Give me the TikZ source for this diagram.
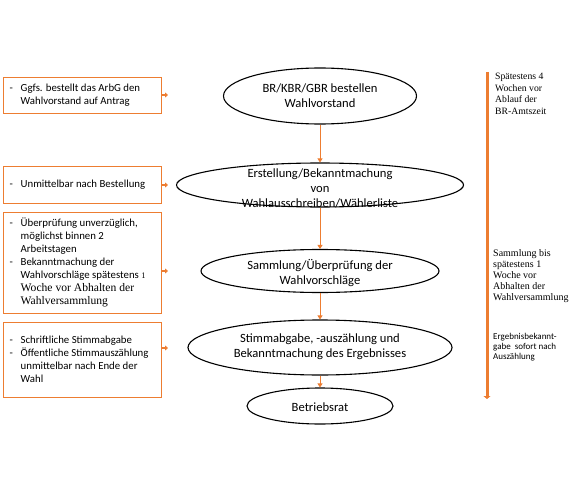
\documentclass[tikz,border=0pt]{standalone}
\usepackage{fontspec}
\setmainfont{Carlito}
\newfontfamily\serifx{Liberation Serif}
\usetikzlibrary{shapes.geometric,arrows.meta}
\definecolor{orng}{HTML}{ED7D31}
\newenvironment{bl}{\begin{tabular}{@{}p{11pt}@{}p{135pt}@{}}}{\end{tabular}}
\begin{document}
\begin{tikzpicture}[x=1pt,y=-1pt,
  ell/.style={draw=black,line width=1.1pt,ellipse,inner sep=0pt},
  etxt/.style={align=center,font=\fontsize{12.6}{15}\selectfont},
  obox/.style={draw=orng,line width=1.4pt,anchor=north west,inner xsep=6pt,inner ysep=0pt,
    minimum width=157pt,font=\fontsize{10.8}{13}\selectfont},
  stub/.style={draw=orng,line width=1.3pt,-{Triangle[width=5pt,length=3pt]}},
  flow/.style={draw=orng,line width=0.8pt,-{Triangle[width=5pt,length=4pt]}},
  rtxt/.style={anchor=north west,align=left,inner sep=0pt}]
\useasboundingbox (0,0) rectangle (577,494);

% ellipses
\node[ell,minimum width=193pt,minimum height=56pt] (e1) at (320,96) {};
\node[etxt] (t1) at (320,96) {BR/KBR/GBR bestellen\\Wahlvorstand};
\node[ell,minimum width=287pt,minimum height=44pt] (e2) at (320,185) {};
\node[etxt] (t2) at (320,188) {Erstellung/Bekanntmachung\\von\\Wahlausschreiben/Wählerliste};
\node[ell,minimum width=238pt,minimum height=43pt] (e3) at (320,271) {};
\node[etxt] (t3) at (320,273) {Sammlung/Überprüfung der\\Wahlvorschläge};
\node[ell,minimum width=264pt,minimum height=55pt] (e4) at (320,347.5) {};
\node[etxt] (t4) at (320,347) {Stimmabgabe, -auszählung und\\Bekanntmachung des Ergebnisses};
\node[ell,minimum width=146pt,minimum height=36pt] (e5) at (320,406) {};
\node[etxt] (t5) at (320,407) {Betriebsrat};

\draw[flow] (e1.south) -- (e2.north);
\draw[flow] (e2.south) -- (e3.north);
\draw[flow] (e3.south) -- (e4.north);
\draw[flow] (e4.south) -- (e5.north);

% left boxes
\node[obox,minimum height=36pt] (b1) at (3,77) {\begin{bl}-&Ggfs. bestellt das ArbG den\newline Wahlvorstand auf Antrag\end{bl}};
\node[obox,minimum height=37pt] (b2) at (3,166) {\begin{bl}-&Unmittelbar nach Bestellung\end{bl}};
\node[obox,minimum height=101pt] (b3) at (3,212) {\begin{bl}-&Überprüfung unverzüglich,\newline möglichst binnen 2\newline Arbeitstagen\\
-&Bekanntmachung der\newline Wahlvorschläge spätestens {\serifx\fontsize{8.5}{13}\selectfont 1}\newline{\serifx\fontsize{11.6}{13}\selectfont Woche vor Abhalten der\newline Wahlversammlung}\end{bl}};
\node[obox,minimum height=75pt] (b4) at (3,322) {\begin{bl}-&Schriftliche Stimmabgabe\\-&Öffentliche Stimmauszählung\newline unmittelbar nach Ende der\newline Wahl\end{bl}};

\coordinate (s1) at (168,95);
\coordinate (s2) at (168,185);
\coordinate (s3) at (168,271);
\coordinate (s4) at (168,348);
\draw[stub] (b1.east |- s1) -- (s1);
\draw[stub] (b2.east |- s2) -- (s2);
\draw[stub] (b3.east |- s3) -- (s3);
\draw[stub] (b4.east |- s4) -- (s4);

% right timeline
\coordinate (rt) at (487,72);
\coordinate (rb) at (487,399);
\draw[orng,line width=3pt,-{Triangle[width=7pt,length=3pt]}] (rt) -- (rb);

\node[rtxt,font=\serifx\fontsize{9.7}{11.5}\selectfont] (r1) at (495,73) {Spätestens 4\\Wochen vor\\Ablauf der\\BR-Amtszeit};
\node[rtxt,font=\serifx\fontsize{10}{11}\selectfont] (r2) at (493,249) {Sammlung bis\\spätestens 1\\Woche vor\\Abhalten der\\Wahlversammlung};
\node[rtxt,font=\fontsize{9}{9.8}\selectfont] (r3) at (493,333) {Ergebnisbekannt-\\gabe\ \ sofort nach\\Auszählung};
\end{tikzpicture}
\end{document}
